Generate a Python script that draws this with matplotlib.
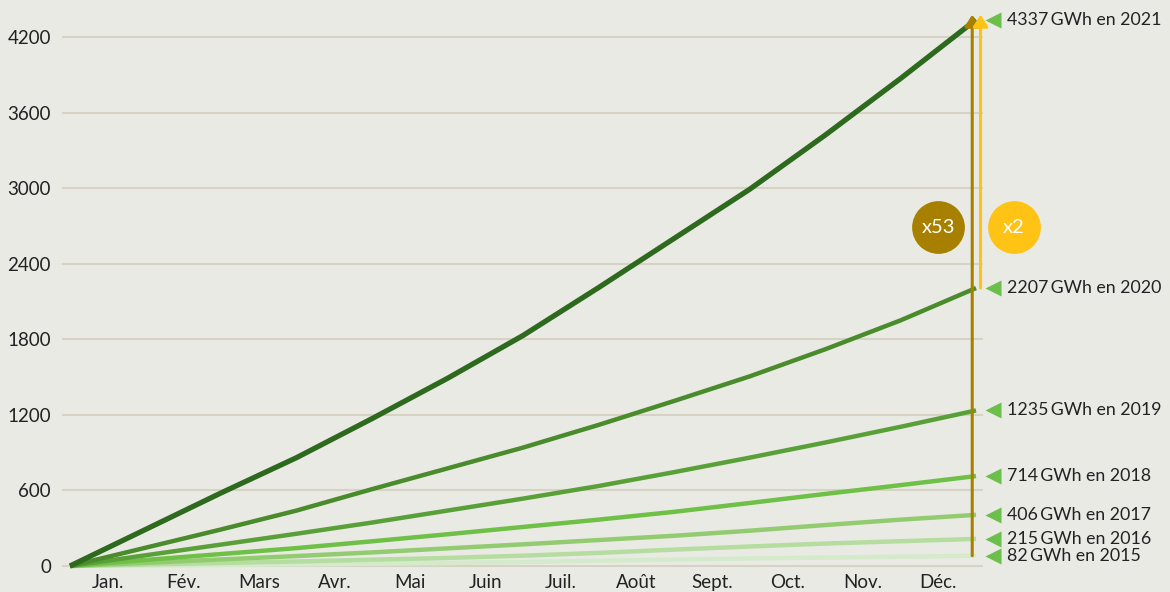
import matplotlib
matplotlib.use("Agg")
import matplotlib.pyplot as plt

months = ["Jan.", "Fév.", "Mars", "Avr.", "Mai", "Juin", "Juil.", "Août", "Sept.", "Oct.", "Nov.", "Déc."]
years = ["2015", "2016", "2017", "2018", "2019", "2020", "2021"]
s2015 = [4, 8, 13, 18, 24, 32, 42, 51, 60, 67, 74, 82]
s2016 = [12, 24, 36, 50, 64, 82, 104, 130, 155, 178, 197, 215]
s2017 = [25, 52, 79, 108, 140, 172, 206, 240, 280, 325, 368, 406]
s2018 = [48, 95, 142, 196, 252, 310, 368, 430, 500, 572, 642, 714]
s2019 = [85, 170, 256, 345, 440, 535, 635, 745, 860, 980, 1105, 1235]
s2020 = [145, 290, 440, 610, 775, 940, 1120, 1310, 1505, 1720, 1950, 2207]
s2021 = [290, 580, 860, 1170, 1490, 1830, 2210, 2600, 2990, 3420, 3870, 4337]
series = [s2015, s2016, s2017, s2018, s2019, s2020, s2021]
labels = ["82\u2009GWh en 2015", "215\u2009GWh en 2016", "406\u2009GWh en 2017", "714\u2009GWh en 2018",
          "1235\u2009GWh en 2019", "2207\u2009GWh en 2020", "4337\u2009GWh en 2021"]
yticks = [0, 600, 1200, 1800, 2400, 3000, 3600, 4200]
ratios = ["x53", "x2"]

colors = ["#d5eacb", "#b5dda0", "#93cb70", "#6fc046", "#5aa038", "#4a8b2c", "#2d6a1e"]
widths = [3.2, 3.2, 3.2, 3.2, 3.2, 3.2, 3.8]
bg = "#eaeae5"
brown = "#a88000"
yellow = "#fec314"
tri = "#6cbf4a"

plt.rcParams['font.family'] = ['Lato', 'DejaVu Sans']

fig = plt.figure(figsize=(11.7, 5.92), dpi=100, facecolor=bg)
W, H = 1170, 592
x0, x1 = 62, 983
ylo, yhi = -30, 4450
scale = 529 / 4200
ybot = 566 + (-ylo) * scale
ytop = 566 - yhi * scale
ax = fig.add_axes([x0 / W, (H - ybot) / H, (x1 - x0) / W, (ybot - ytop) / H])
ax.set_facecolor(bg)
ax.set_xlim((x0 - 70) / 75.5, (x1 - 70) / 75.5)
ax.set_ylim(ylo, yhi)

for yv in yticks:
    ax.axhline(yv, color="#d6d3c4", lw=1.5, zorder=0)

xs = list(range(13))
for s, c, w in zip(series, colors, widths):
    ax.plot(xs, [0] + s, color=c, lw=w, solid_capstyle="butt", solid_joinstyle="round", zorder=3)

# arrows
ax.annotate("", xy=(11.95, s2021[-1] + 40), xytext=(11.95, s2015[-1]),
            arrowprops=dict(arrowstyle="-|>,head_length=0.7,head_width=0.45", color=brown, lw=2.2,
                            shrinkA=0, shrinkB=0), zorder=4)
ax.annotate("", xy=(12.06, s2021[-1] + 40), xytext=(12.06, s2020[-1]),
            arrowprops=dict(arrowstyle="-|>,head_length=0.7,head_width=0.45", color=yellow, lw=2.2,
                            shrinkA=0, shrinkB=0), zorder=4, annotation_clip=False)
ax.scatter([11.5], [2690], s=1444, color=brown, zorder=5, clip_on=False, linewidths=0)
ax.scatter([12.5], [2690], s=1444, color=yellow, zorder=5, clip_on=False, linewidths=0)
ax.text(11.5, 2690, ratios[0], color="white", fontsize=14.5, ha="center", va="center", zorder=6)
ax.text(12.5, 2690, ratios[1], color="white", fontsize=14.5, ha="center", va="center", zorder=6)

# end labels
for s, lab in zip(series, labels):
    ax.plot([12.23], [s[-1]], marker="<", ms=12, color=tri, clip_on=False, zorder=5, mec="none")
    ax.text(12.41, s[-1], lab, fontsize=12.8, ha="left", va="center", color="#222222", clip_on=False)

ax.set_yticks(yticks)
ax.set_yticklabels([str(v) for v in yticks], fontsize=13.5, color="#222222")
ax.set_xticks([i + 0.5 for i in range(12)])
ax.set_xticklabels(months, fontsize=13.5, color="#222222")
ax.tick_params(axis="both", length=0, pad=3)
ax.tick_params(axis="y", pad=8)
for sp in ax.spines.values():
    sp.set_visible(False)

fig.savefig("out.png", dpi=100, facecolor=bg)
